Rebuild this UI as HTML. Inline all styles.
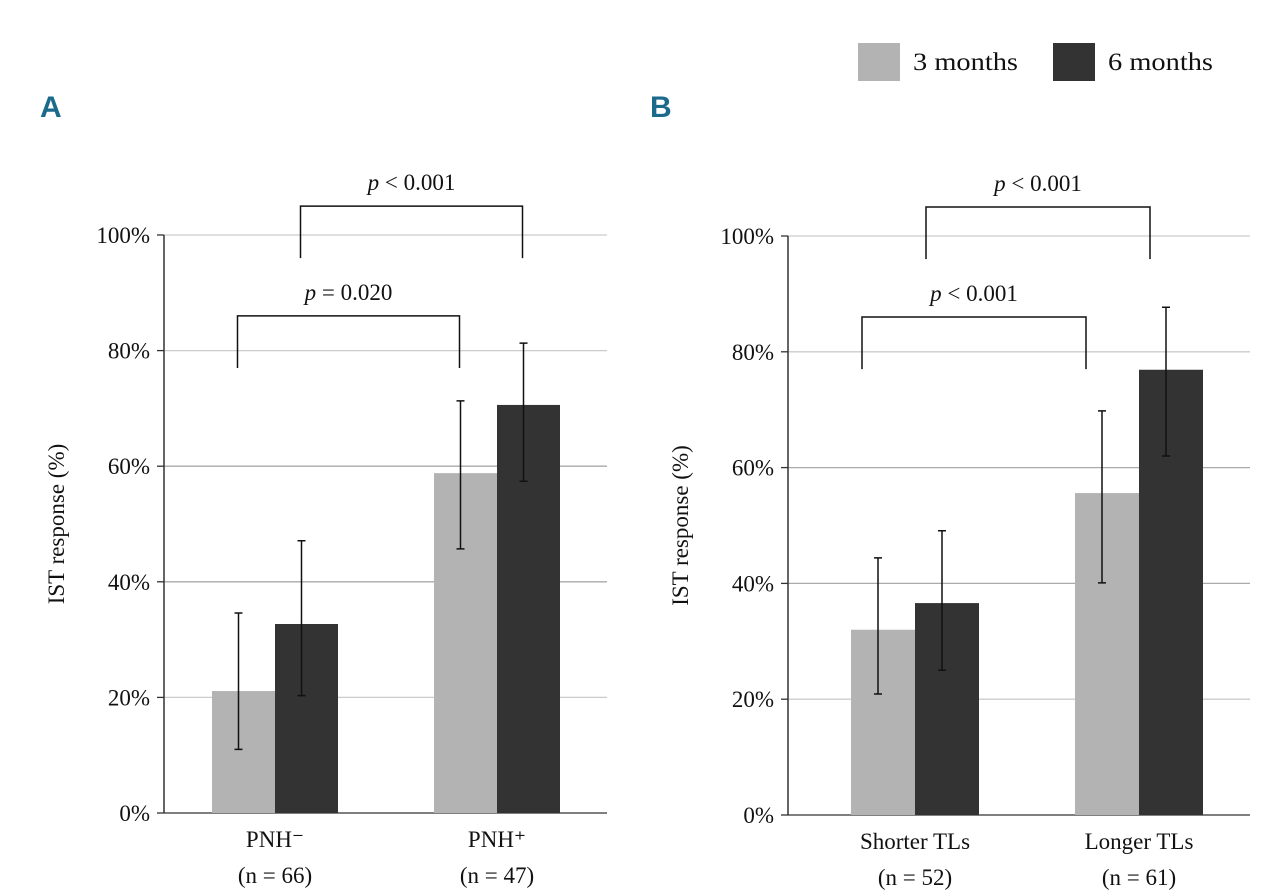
<!DOCTYPE html>
<html><head><meta charset="utf-8">
<style>
body{margin:0;background:#fff;}
svg{display:block;font-family:"Liberation Serif",serif;}
</style></head>
<body>
<svg id="chart" width="1280" height="896" xmlns="http://www.w3.org/2000/svg"></svg>
<script>
const ticks = [0,20,40,60,80,100];
const seriesNames = ['3 months','6 months'];
const catsA = ['PNH⁻','PNH⁺'];
const nA = ['(n = 66)','(n = 47)'];
const a3 = [21.1, 58.8];
const a3lo = [11.0, 45.7];
const a3hi = [34.6, 71.3];
const a6 = [32.7, 70.6];
const a6lo = [20.3, 57.4];
const a6hi = [47.1, 81.3];
const catsB = ['Shorter TLs','Longer TLs'];
const nB = ['(n = 52)','(n = 61)'];
const b3 = [32.0, 55.6];
const b3lo = [20.9, 40.1];
const b3hi = [44.4, 69.8];
const b6 = [36.6, 76.9];
const b6lo = [25.0, 62.0];
const b6hi = [49.1, 87.7];
const pA = ['p = 0.020','p < 0.001'];
const pB = ['p < 0.001','p < 0.001'];

const NS='http://www.w3.org/2000/svg';
const svg=document.getElementById('chart');
function mk(t,a,parent){const e=document.createElementNS(NS,t);for(const k in a)e.setAttribute(k,a[k]);(parent||svg).appendChild(e);return e;}

function panel(cfg){
  const g=mk('g',{});
  
  
  const y=v=>cfg.y0-(cfg.y0-cfg.y100)*v/100;
  ticks.forEach(t=>{
    if(t>0){const l=mk('line',{x1:cfg.ax,x2:cfg.gx2,y1:y(t),y2:y(t),stroke:(t===40||t===60)?'#aaa':'#ccc','stroke-width':1.3},g);
      }
    const tk=mk('line',{x1:cfg.ax-7,x2:cfg.ax,y1:y(t),y2:y(t),stroke:'#333','stroke-width':1.3},g);
    
    const tx=mk('text',{x:cfg.ax-14,y:y(t)+8,'text-anchor':'end','font-size':23,fill:'#111'},g);
    tx.textContent=t+'%';
    
  });
  const ax=mk('line',{x1:cfg.ax,x2:cfg.ax,y1:y(100),y2:y(0),stroke:'#333','stroke-width':1.5},g);
  
  const bl=mk('line',{x1:cfg.ax,x2:cfg.gx2,y1:y(0),y2:y(0),stroke:'#333','stroke-width':1.3},g);
  
  const yt=mk('text',{transform:`translate(${cfg.ax-100},${(y(0)+y(100))/2}) rotate(-90)`,'text-anchor':'middle','font-size':23,fill:'#111'},g);
  yt.textContent='IST response (%)';
  
  const bw=cfg.bw;
  cfg.cats.forEach((c,i)=>{
    const cx=cfg.cx[i];
    [[cfg.s3,cfg.l3,cfg.h3,'#b3b3b3',cx-bw],[cfg.s6,cfg.l6,cfg.h6,'#333333',cx]].forEach((s,j)=>{
      const r=mk('rect',{x:s[4],y:y(s[0][i]),width:bw,height:y(0)-y(s[0][i]),fill:s[3]},g);
      
      const mx=s[4]+bw/2-5;
      const e=mk('path',{d:`M${mx},${y(s[1][i])}V${y(s[2][i])}M${mx-4},${y(s[1][i])}H${mx+4}M${mx-4},${y(s[2][i])}H${mx+4}`,stroke:'#111','stroke-width':1.5,fill:'none'},g);
      
    });
    const t1=mk('text',{x:cx,y:y(0)+34,'text-anchor':'middle','font-size':23,fill:'#111'},g);
    t1.textContent=c;
    const t2=mk('text',{x:cx,y:y(0)+70,'text-anchor':'middle','font-size':23,fill:'#111'},g);
    t2.textContent=cfg.n[i];
  });
  const o=cfg.bo;
  const br=[[cfg.cx[0]-bw/2+o,cfg.cx[1]-bw/2+o,77,86,cfg.p[0]],[cfg.cx[0]+bw/2+o,cfg.cx[1]+bw/2+o,96,105,cfg.p[1]]];
  br.forEach(b=>{
    const p=mk('path',{d:`M${b[0]},${y(b[2])}V${y(b[3])}H${b[1]}V${y(b[2])}`,stroke:'#111','stroke-width':1.5,fill:'none'},g);
    
    const t=mk('text',{x:(b[0]+b[1])/2,y:y(b[3])-16,'text-anchor':'middle','font-size':23,fill:'#111'},g);
    const parts=b[4].split(' ');
    const ti=mk('tspan',{'font-style':'italic'},t);ti.textContent=parts[0];
    const tr=mk('tspan',{},t);tr.textContent=' '+parts.slice(1).join(' ');
    
  });
  const L=mk('text',{x:cfg.lx,y:117,'font-size':30,'font-weight':'bold',fill:'#1b6a8c','font-family':'"Liberation Sans Narrow","Liberation Sans",sans-serif'},g);
  L.textContent=cfg.letter;
}
panel({name:'panel-a',letter:'A',lx:40,ax:164,gx2:607,y0:813,y100:235,cx:[275,497],bw:63,bo:-6,cats:catsA,n:nA,s3:a3,l3:a3lo,h3:a3hi,s6:a6,l6:a6lo,h6:a6hi,p:pA});
panel({name:'panel-b',letter:'B',lx:650,ax:788,gx2:1250,y0:815,y100:236,cx:[915,1139],bw:64,bo:-21,cats:catsB,n:nB,s3:b3,l3:b3lo,h3:b3hi,s6:b6,l6:b6lo,h6:b6hi,p:pB});
const lg=mk('g',{});

[[858,'#b3b3b3',913],[1053,'#333333',1108]].forEach((l,i)=>{
  const r=mk('rect',{x:l[0],y:43,width:42,height:38,fill:l[1]},lg);
  
  const t=mk('text',{x:l[2],y:70,'font-size':25,fill:'#111',textLength:105,lengthAdjust:'spacingAndGlyphs'},lg);
  t.textContent=seriesNames[i];
  
});
</script>
</body></html>
